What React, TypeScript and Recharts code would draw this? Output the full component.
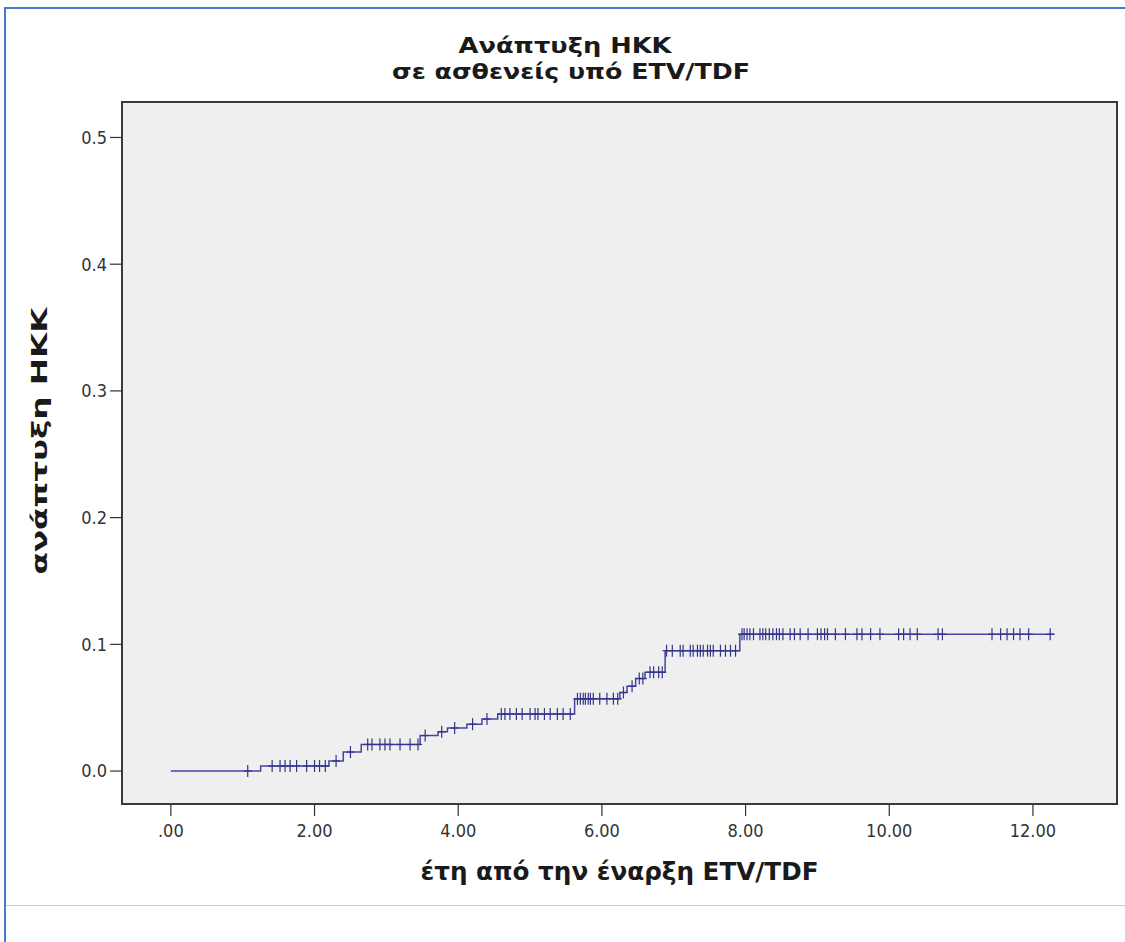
import React from "react";
import {
  ComposedChart,
  Line,
  Scatter,
  XAxis,
  YAxis,
  CartesianGrid,
  ReferenceArea,
  Label,
} from "recharts";

// Kaplan-Meier cumulative incidence steps (time in years, cumulative value)
const eventTimes = [0, 1.25, 2.2, 2.4, 2.65, 3.47, 3.72, 3.85, 4.12, 4.33, 4.55, 5.62, 6.25, 6.35, 6.47, 6.6, 6.88, 7.92];
const eventLevels = [0, 0.004, 0.008, 0.015, 0.021, 0.028, 0.031, 0.034, 0.037, 0.041, 0.045, 0.057, 0.062, 0.067, 0.073, 0.078, 0.095, 0.108];
const lastFollowUp = 12.3;

// censored observations (times, years)
const censorTimes = [
  1.07,
  1.41, 1.52, 1.59, 1.66, 1.75, 1.89, 2.0, 2.07, 2.15,
  2.3,
  2.5,
  2.74, 2.8, 2.91, 2.98, 3.05, 3.19, 3.33, 3.44,
  3.54,
  3.77,
  3.95,
  4.2,
  4.4,
  4.6, 4.65, 4.72, 4.81, 4.89, 5.0, 5.07, 5.11, 5.2, 5.28, 5.38, 5.46, 5.56,
  5.66, 5.7, 5.74, 5.77, 5.81, 5.84, 5.88, 5.97, 6.07, 6.16, 6.22,
  6.3,
  6.42,
  6.52, 6.57,
  6.67, 6.72, 6.79, 6.84,
  6.9, 6.98, 7.09, 7.13, 7.23, 7.27, 7.33, 7.37, 7.41, 7.47, 7.51, 7.55, 7.65, 7.72, 7.79, 7.86,
  7.95, 7.98, 8.02, 8.06, 8.11, 8.2, 8.24, 8.28, 8.33, 8.38, 8.43, 8.47, 8.52, 8.62, 8.68, 8.76, 8.87,
  9.0, 9.05, 9.1, 9.14, 9.25, 9.39, 9.55, 9.62, 9.74, 9.87, 10.13, 10.2, 10.29, 10.39, 10.68, 10.74,
  11.43, 11.55, 11.64, 11.73, 11.82, 11.94, 12.24,
];

const xTicks = [0, 2, 4, 6, 8, 10, 12];
const xTickLabels = [".00", "2.00", "4.00", "6.00", "8.00", "10.00", "12.00"];
const yTicks = [0, 0.1, 0.2, 0.3, 0.4, 0.5];
const yTickLabels = ["0.0", "0.1", "0.2", "0.3", "0.4", "0.5"];

const titleLines = ["Ανάπτυξη ΗΚΚ", "σε ασθενείς υπό ETV/TDF"];
const xTitle = "έτη από την έναρξη ETV/TDF";
const yTitle = "ανάπτυξη ΗΚΚ";

const X_DOMAIN: [number, number] = [-0.68, 13.17];
const Y_DOMAIN: [number, number] = [-0.026, 0.528];

const stepData = [
  ...eventTimes.map((t, i) => ({ t, v: eventLevels[i] })),
  { t: lastFollowUp, v: eventLevels[eventLevels.length - 1] },
];

const levelAt = (t: number) => {
  let v = 0;
  for (let i = 0; i < eventTimes.length; i++) {
    if (eventTimes[i] <= t) v = eventLevels[i];
  }
  return v;
};

const censorData = censorTimes.map((t) => ({ t, v: levelAt(t) }));

const FONT = "'DejaVu Sans Condensed', 'Liberation Sans Narrow', 'Liberation Sans', Arial, sans-serif";
const TITLE_FONT = "'DejaVu Sans Condensed', 'DejaVu Sans', 'Liberation Sans', sans-serif";
const LINE_COLOR = "#4545a8";
const MARK_COLOR = "#34348a";
const TEXT_COLOR = "#1a1a1a";

const CensorMark = (props: any) => {
  const { cx, cy } = props;
  if (cx == null || cy == null) return null;
  return (
    <g>
      <line x1={cx} y1={cy - 6} x2={cx} y2={cy + 6} stroke={MARK_COLOR} strokeWidth={1.2} />
      <line x1={cx - 4} y1={cy} x2={cx + 4} y2={cy} stroke={MARK_COLOR} strokeWidth={1.2} />
    </g>
  );
};

export default function App() {
  return (
    <div
      style={{
        position: "absolute",
        left: 0,
        top: 0,
        width: 1125,
        height: 942,
        background: "#ffffff",
        overflow: "hidden",
      }}
    >
      {/* page borders */}
      <div style={{ position: "absolute", left: 4, top: 7, width: 1121, height: 2, background: "#4a78cc" }} />
      <div style={{ position: "absolute", left: 4, top: 7, width: 2, height: 935, background: "#4a78cc" }} />
      <div style={{ position: "absolute", left: 6, top: 905, width: 1119, height: 1, background: "#c8c8c8" }} />

      <div style={{ position: "absolute", left: 0, top: 0 }}>
        <ComposedChart
          width={1125}
          height={942}
          margin={{ top: 102, right: 8, bottom: 0, left: 0 }}
        >
          <CartesianGrid horizontal={false} vertical={false} fill="#efefef" stroke="none" />
          <XAxis
            type="number"
            dataKey="t"
            domain={X_DOMAIN}
            allowDataOverflow
            ticks={xTicks}
            tickFormatter={(v: number) => xTickLabels[xTicks.indexOf(v)] ?? String(v)}
            height={138}
            axisLine={false}
            tickLine={{ stroke: "#333", strokeWidth: 1.2 }}
            tickSize={12}
            tickMargin={8}
            tick={{ fontFamily: FONT, fontSize: 18, fill: "#333" }}
            interval={0}
          >
            <Label
              content={(p: any) => {
                const vb = p.viewBox || {};
                const x = (vb.x ?? 0) + (vb.width ?? 0) / 2;
                const y = (vb.y ?? 0) + 76;
                return (
                  <text
                    x={x}
                    y={y}
                    textAnchor="middle"
                    textLength={398}
                    lengthAdjust="spacingAndGlyphs"
                    style={{ fontFamily: TITLE_FONT, fontWeight: "bold", fontSize: 25, fill: TEXT_COLOR }}
                  >
                    {xTitle}
                  </text>
                );
              }}
            />
          </XAxis>
          <YAxis
            type="number"
            domain={Y_DOMAIN}
            allowDataOverflow
            ticks={yTicks}
            tickFormatter={(v: number) => yTickLabels[yTicks.indexOf(v)] ?? String(v)}
            width={122}
            axisLine={false}
            tickLine={{ stroke: "#333", strokeWidth: 1.2 }}
            tickSize={12}
            tickMargin={3}
            tick={{ fontFamily: FONT, fontSize: 18, fill: "#333" }}
            interval={0}
          >
            <Label
              content={(p: any) => {
                const vb = p.viewBox || {};
                const x = (vb.x ?? 0) + 47;
                const y = 441;
                return (
                  <text
                    x={x}
                    y={y}
                    transform={`rotate(-90, ${x}, ${y})`}
                    textAnchor="middle"
                    textLength={267}
                    lengthAdjust="spacingAndGlyphs"
                    style={{ fontFamily: TITLE_FONT, fontWeight: "bold", fontSize: 22, fill: TEXT_COLOR }}
                  >
                    {yTitle}
                  </text>
                );
              }}
            />
          </YAxis>
          <Line
            data={stepData}
            dataKey="v"
            type="stepAfter"
            stroke={LINE_COLOR}
            strokeWidth={1.5}
            dot={false}
            activeDot={false}
            isAnimationActive={false}
          />
          <Scatter
            data={censorData}
            dataKey="v"
            shape={<CensorMark />}
            isAnimationActive={false}
          />
          <ReferenceArea
            x1={X_DOMAIN[0]}
            x2={X_DOMAIN[1]}
            y1={Y_DOMAIN[0]}
            y2={Y_DOMAIN[1]}
            fill="none"
            stroke="#3a3a3a"
            strokeWidth={2}
          />
        </ComposedChart>
      </div>

      <svg
        width={1125}
        height={100}
        style={{ position: "absolute", left: 0, top: 0, pointerEvents: "none" }}
      >
        <text
          x={565}
          y={53}
          textAnchor="middle"
          textLength={213}
          lengthAdjust="spacingAndGlyphs"
          style={{ fontFamily: TITLE_FONT, fontWeight: "bold", fontSize: 21, fill: TEXT_COLOR }}
        >
          {titleLines[0]}
        </text>
        <text
          x={571}
          y={79}
          textAnchor="middle"
          textLength={358}
          lengthAdjust="spacingAndGlyphs"
          style={{ fontFamily: TITLE_FONT, fontWeight: "bold", fontSize: 22, fill: TEXT_COLOR }}
        >
          {titleLines[1]}
        </text>
      </svg>
    </div>
  );
}
